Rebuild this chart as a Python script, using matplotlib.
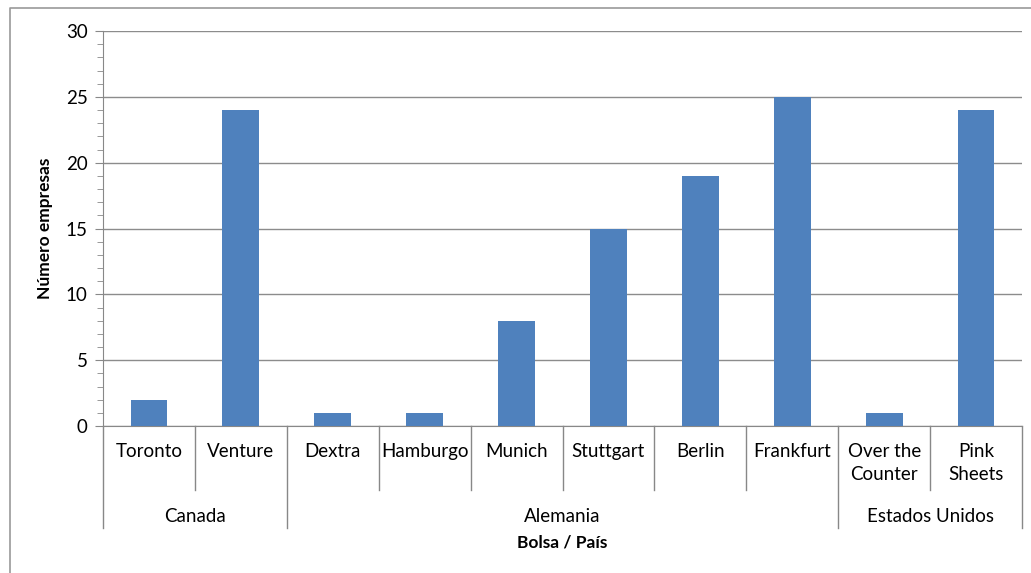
import matplotlib
matplotlib.use("Agg")
import matplotlib.pyplot as plt
import matplotlib.transforms as mtransforms
from matplotlib.ticker import MultipleLocator

# datos
bolsas = ["Toronto", "Venture", "Dextra", "Hamburgo", "Munich", "Stuttgart",
          "Berlin", "Frankfurt", "Over the\nCounter", "Pink\nSheets"]
empresas = [2, 24, 1, 1, 8, 15, 19, 25, 1, 24]
paises = ["Canada", "Alemania", "Estados Unidos"]
bolsas_por_pais = [2, 6, 2]

plt.rcParams["font.family"] = ["Lato", "DejaVu Sans"]

fig = plt.figure(figsize=(10.31, 5.73), dpi=100)
ax = fig.add_axes([103 / 1031, 1 - 426 / 573, (1022 - 103) / 1031, (426 - 31) / 573])

x = list(range(len(bolsas)))
ax.bar(x, empresas, width=0.4, color="#4F81BD", zorder=3)

ax.set_xlim(-0.5, len(bolsas) - 0.5)
ax.set_ylim(0, 30)
ax.yaxis.set_major_locator(MultipleLocator(5))
ax.yaxis.set_minor_locator(MultipleLocator(1))
ax.tick_params(axis="y", which="major", length=6, color="#888888", labelsize=13.5, pad=5)
ax.tick_params(axis="y", which="minor", length=4, color="#888888")
ax.set_xticks([])
ax.grid(axis="y", color="#8c8c8c", lw=1, zorder=0)

for s in ["top", "right"]:
    ax.spines[s].set_visible(False)
ax.spines["left"].set_color("#888888")
ax.spines["bottom"].set_color("#888888")

trans = mtransforms.blended_transform_factory(ax.transData, ax.transAxes)
# etiquetas de bolsas
for i, b in enumerate(bolsas):
    ax.text(i, -0.042, b, transform=trans, ha="center", va="top",
            fontsize=13.5, linespacing=1.45)

# separadores
limites = [-0.5]
for n in bolsas_por_pais:
    limites.append(limites[-1] + n)
for i in range(len(bolsas) + 1):
    xs = i - 0.5
    y_end = -0.258 if xs in limites else -0.162
    ax.plot([xs, xs], [0, y_end], transform=trans, color="#888888", lw=1, clip_on=False)

# etiquetas de paises
for j, p in enumerate(paises):
    centro = (limites[j] + limites[j + 1]) / 2
    ax.text(centro, -0.228, p, transform=trans, ha="center", va="center", fontsize=13.5)

ax.text(0.5, -0.296, "Bolsa / País", transform=ax.transAxes, ha="center", va="center",
        fontsize=12.5, fontweight="bold")
ax.set_ylabel("Número empresas", fontsize=12.5, fontweight="bold", labelpad=9)

# marco exterior
fig.add_artist(plt.Line2D([10 / 1031, 10 / 1031, 1], [0, 1 - 8 / 573, 1 - 8 / 573],
                          transform=fig.transFigure, color="#999999", lw=1.2))

fig.savefig("out.png", dpi=100)
